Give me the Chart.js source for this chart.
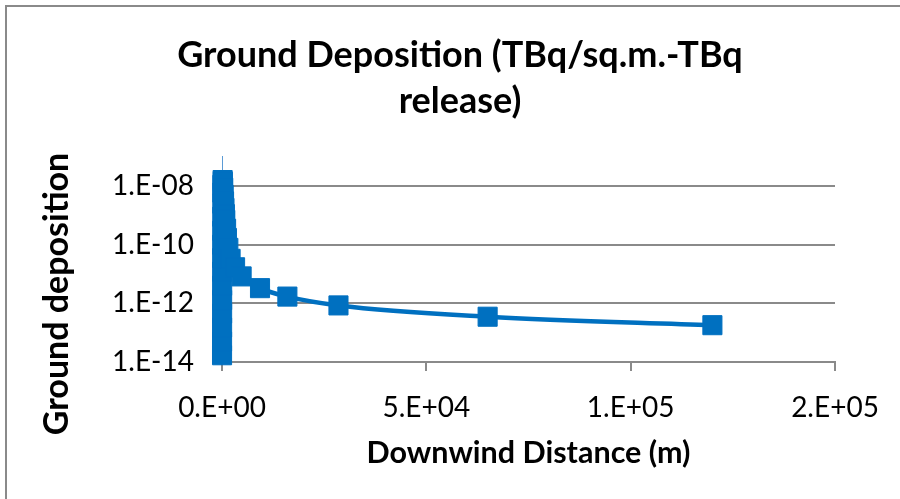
<!DOCTYPE html>
<html>
<head>
<meta charset="utf-8">
<script src="https://cdn.jsdelivr.net/npm/chart.js@4/dist/chart.umd.min.js"></script>
<style>
  html, body { margin: 0; padding: 0; background: #fff; }
  #wrap { position: relative; width: 900px; height: 499px; overflow: hidden; }
  #frame { position: absolute; left: 5px; top: 5px; width: 1000px; height: 1000px;
           border-left: 2px solid #8a8a8a; border-top: 2px solid #8a8a8a; }
  canvas { position: absolute; left: 0; top: 0; }
</style>
</head>
<body>
<div id="wrap">
  <div id="frame"></div>
  <canvas id="chart" width="900" height="499"></canvas>
</div>
<script>
// downwind distance (m) and ground deposition (TBq/sq.m. per TBq released)
const distances = [10, 15, 20, 25, 30, 35, 40, 45, 50, 60, 70, 80, 90, 100, 150, 200, 300,
  400, 500, 600, 700, 800, 1000, 1200, 1550, 2100, 3200, 4800, 9300, 16000, 28500, 65000, 120000];
const deposition = [1.7e-14, 5.0e-14, 1.5e-13, 4.5e-13, 1.3e-12, 4.0e-12, 1.2e-11, 3.5e-11,
  1.0e-10, 3.0e-10, 9.0e-10, 2.5e-9, 6.0e-9, 1.1e-8, 1.6e-8, 1.4e-8, 8.8e-9, 5.0e-9, 3.0e-9,
  1.8e-9, 1.1e-9, 7.0e-10, 3.5e-10, 1.7e-10, 7.8e-11, 3.3e-11, 1.7e-11, 8.3e-12, 3.3e-12,
  1.7e-12, 8.5e-13, 3.5e-13, 1.8e-13];

const yTicks = [1e-14, 1e-12, 1e-10, 1e-8];
const xTicks = [0, 50000, 100000, 150000];

const titleLines = ['Ground Deposition (TBq/sq.m.-TBq', 'release)'];
const xTitle = 'Downwind Distance (m)';
const yTitleText = 'Ground deposition';

const blue = '#0070c0';
const gray = '#8a8a8a';

// Excel style "1.E-08"
function fmtExp(v) {
  if (v === 0) return '0.E+00';
  const parts = Number(v).toExponential(0).split('e');
  const n = parseInt(parts[1], 10);
  return parts[0] + '.E' + (n < 0 ? '-' : '+') + String(Math.abs(n)).padStart(2, '0');
}

// rotated y title, placed like the excel one (not centred on the axis)
const yTitle = {
  id: 'yTitle',
  afterDraw(chart) {
    const ctx = chart.ctx;
    ctx.save();
    ctx.translate(57, 294);
    ctx.rotate(-Math.PI / 2);
    ctx.font = 'bold 34px Lato';
    ctx.fillStyle = '#000';
    ctx.textAlign = 'center';
    ctx.textBaseline = 'middle';
    ctx.fillText(yTitleText, 0, 0);
    ctx.restore();
  }
};

new Chart(document.getElementById('chart'), {
  type: 'line',
  data: {
    datasets: [{
      data: distances.map((d, i) => ({ x: d, y: deposition[i] })),
      borderColor: blue,
      backgroundColor: blue,
      borderWidth: 4.5,
      pointStyle: 'rect',
      pointRadius: 13.5,
      pointBorderWidth: 1,
      pointBorderColor: blue,
      cubicInterpolationMode: 'monotone',
      clip: false
    }]
  },
  options: {
    responsive: false,
    animation: false,
    // left/right padding chosen so the title centres where excel put it
    layout: { padding: { left: 85, right: 65, top: 0, bottom: 0 } },
    plugins: {
      legend: { display: false },
      tooltip: { enabled: false },
      title: {
        display: true,
        text: titleLines,
        color: '#000',
        font: { family: 'Lato', size: 36, weight: 'bold', lineHeight: 1.26 },
        padding: { top: 33, bottom: 33 }
      }
    },
    scales: {
      x: {
        type: 'linear',
        min: 0,
        max: 150000,
        afterBuildTicks(s) { s.ticks = xTicks.map(v => ({ value: v })); },
        afterFit(s) { s.height = 137; },
        ticks: {
          callback: fmtExp,
          color: '#000',
          font: { family: 'Lato', size: 28 },
          padding: 20,
          maxRotation: 0,
          autoSkip: false
        },
        grid: { drawOnChartArea: false, color: gray, lineWidth: 2, tickLength: 9 },
        border: { color: gray, width: 2 },
        title: {
          display: true,
          text: xTitle,
          color: '#000',
          font: { family: 'Lato', size: 30.5, weight: 'bold' },
          padding: { top: 0, bottom: 28 }
        }
      },
      y: {
        type: 'logarithmic',
        min: 1e-14,
        max: 1e-7,
        afterBuildTicks(s) { s.ticks = yTicks.map(v => ({ value: v })); },
        afterFit(s) { s.width = 137; },
        ticks: {
          callback: fmtExp,
          color: '#000',
          font: { family: 'Lato', size: 28 },
          padding: 28
        },
        grid: { color: gray, lineWidth: 2, drawTicks: false },
        border: { display: true, color: '#5b9bd5', width: 1 }
      }
    }
  },
  plugins: [yTitle]
});
</script>
</body>
</html>
